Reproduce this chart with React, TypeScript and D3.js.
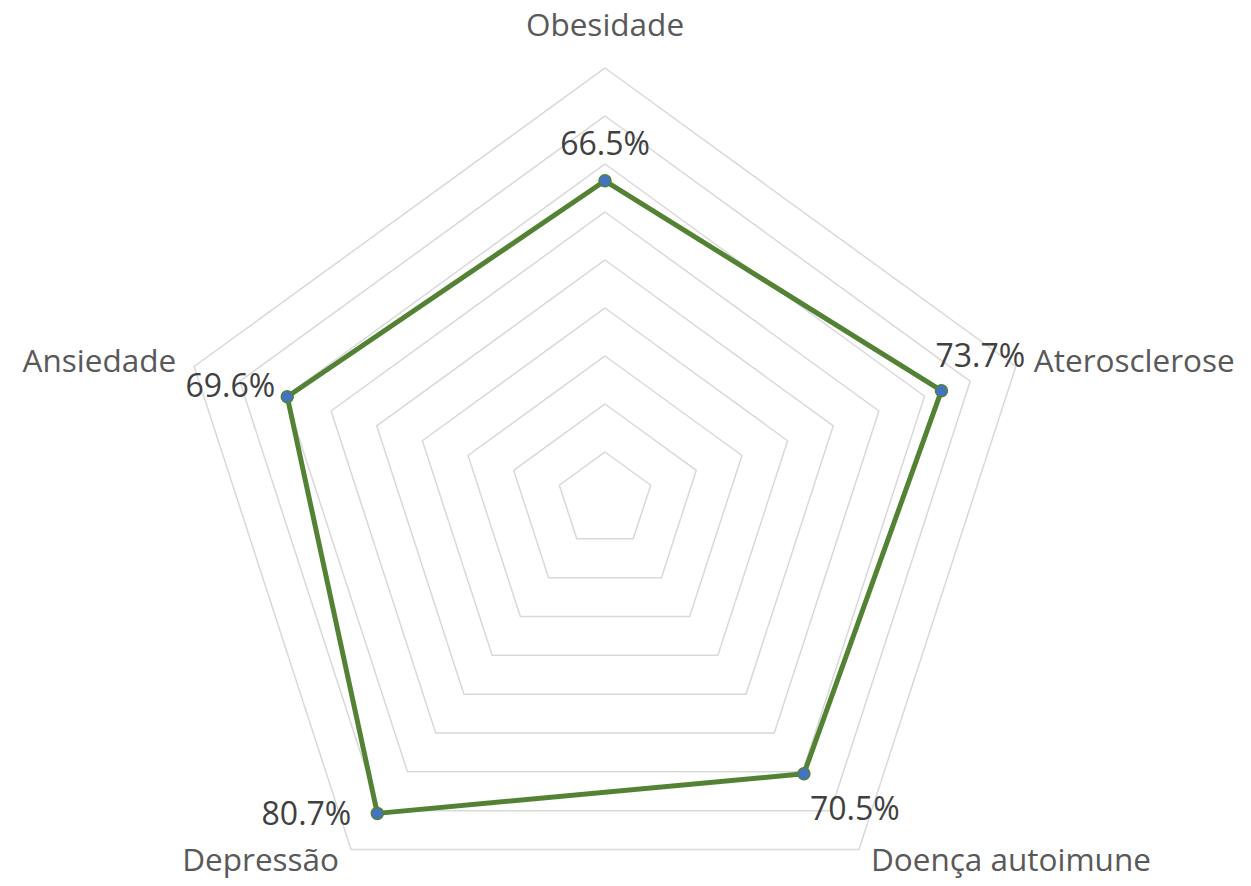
import React from "react";
import * as d3 from "d3";

const categories = ["Obesidade", "Aterosclerose", "Doença autoimune", "Depressão", "Ansiedade"];
const values = [0.665, 0.737, 0.705, 0.807, 0.696];
const gridLevels = [0.1, 0.2, 0.3, 0.4, 0.5, 0.6, 0.7, 0.8, 0.9];

const W = 1251;
const H = 886;
const CX = 605;
const CY = 500;
const R = 432;

// data label placement relative to the marker (anchor, dx, dy baseline)
const labelPlacement: [string, number, number][] = [
  ["middle", 0, -26],
  ["start", -6, -24],
  ["start", 6, 46],
  ["end", -26, 12],
  ["end", -12, 0],
];

export default function App() {
  const r = d3.scaleLinear().domain([0, 0.9]).range([0, R]);
  const angle = d3
    .scalePoint<string>()
    .domain(categories)
    .range([0, (2 * Math.PI * (categories.length - 1)) / categories.length]);

  const pt = (cat: string, v: number): [number, number] => {
    const a = angle(cat) as number;
    return [CX + r(v) * Math.sin(a), CY - r(v) * Math.cos(a)];
  };

  const line = d3.line<[number, number]>().curve(d3.curveLinearClosed);
  const fmt = d3.format(".1%");

  const gridPaths = gridLevels.map((lv) => line(categories.map((c) => pt(c, lv))) as string);
  const dataPts = categories.map((c, i) => pt(c, values[i]));
  const dataPath = line(dataPts) as string;

  const outer = r.domain()[1];

  return (
    <svg
      width={W}
      height={H}
      style={{ position: "absolute", left: 0, top: 0, background: "#fff" }}
      fontFamily="'Open Sans', 'Noto Sans', sans-serif"
    >
      {gridPaths.map((d, i) => (
        <path key={i} d={d} fill="none" stroke="#d9d9d9" strokeWidth={1.5} />
      ))}
      <path d={dataPath} fill="none" stroke="#548235" strokeWidth={5} strokeLinejoin="round" />
      {dataPts.map(([x, y], i) => (
        <circle key={i} cx={x} cy={y} r={6} fill="#4472C4" stroke="#548235" strokeWidth={1.5} />
      ))}
      {dataPts.map(([x, y], i) => {
        const [anchor, dx, dy] = labelPlacement[i];
        return (
          <text
            key={i}
            x={x + dx}
            y={y + dy}
            textAnchor={anchor}
            fontSize={32}
            fill="#404040"
          >
            {fmt(values[i])}
          </text>
        );
      })}
      {categories.map((c, i) => {
        const [vx, vy] = pt(c, outer);
        const a = angle(c) as number;
        const s = Math.sin(a);
        const co = Math.cos(a);
        let anchor = "middle";
        let x = vx;
        let y = vy;
        const lower = co < -0.5;
        const gap = lower ? 12 : 18;
        if (s > 0.1) {
          anchor = "start";
          x = vx + gap;
        } else if (s < -0.1) {
          anchor = "end";
          x = vx - gap;
        }
        if (co > 0.5) y = vy - 32;
        else if (lower) y = vy + 22;
        else y = vy + 5;
        return (
          <text key={c} x={x} y={y} textAnchor={anchor} fontSize={31.5} fill="#595959">
            {c}
          </text>
        );
      })}
    </svg>
  );
}
